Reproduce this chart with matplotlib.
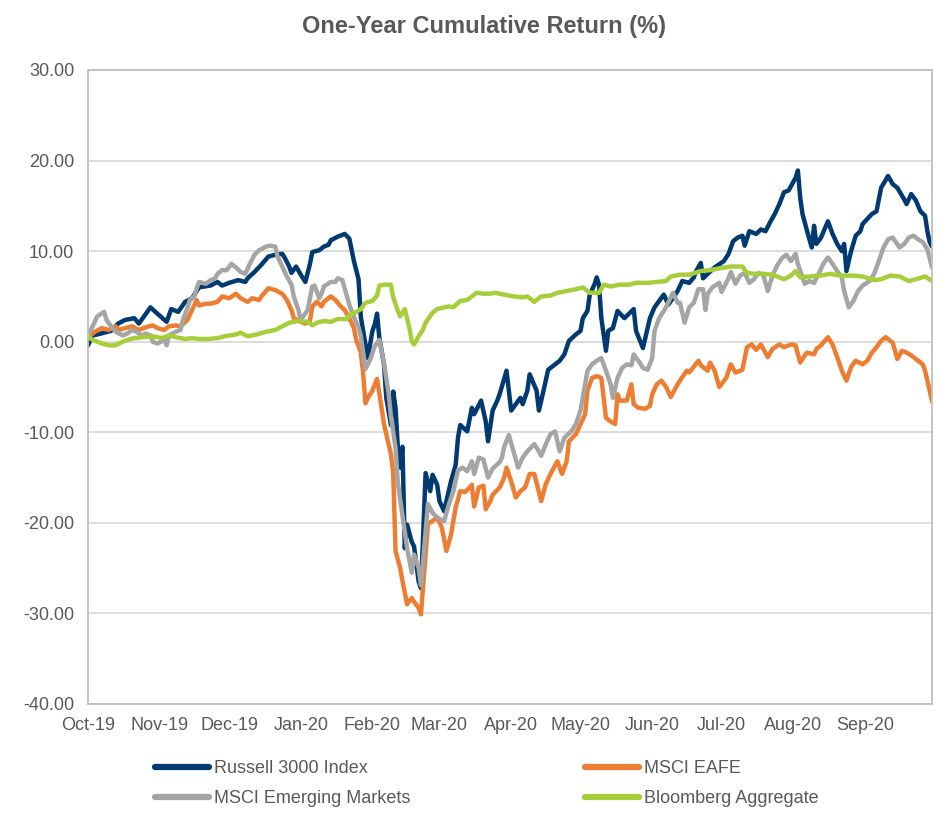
import pandas as pd
import matplotlib
matplotlib.use("Agg")
import matplotlib.pyplot as plt
import matplotlib.dates as mdates
from matplotlib.ticker import FormatStrFormatter

plt.rcParams["font.family"] = ["Liberation Sans", "DejaVu Sans"]

TITLE = "One-Year Cumulative Return (%)"
X_START, X_END = "2019-10-01", "2020-09-30"
Y_TICKS = [-40, -30, -20, -10, 0, 10, 20, 30]

# values (cumulative return, %)
RUSSELL_3000 = [
    ("2019-10-01", -0.4), ("2019-10-03", 0.7), ("2019-10-05", 0.8), ("2019-10-08", 1.0),
    ("2019-10-11", 1.2), ("2019-10-14", 2.0), ("2019-10-17", 2.4), ("2019-10-21", 2.6),
    ("2019-10-23", 2.0), ("2019-10-28", 3.8), ("2019-10-31", 3.1), ("2019-11-04", 2.2),
    ("2019-11-06", 3.6), ("2019-11-09", 3.3), ("2019-11-12", 4.4), ("2019-11-15", 4.8),
    ("2019-11-18", 6.0), ("2019-11-23", 6.2), ("2019-11-26", 6.6), ("2019-11-28", 6.2),
    ("2019-12-01", 6.5), ("2019-12-05", 6.8), ("2019-12-08", 6.6), ("2019-12-09", 7.0),
    ("2019-12-12", 7.7), ("2019-12-15", 8.5), ("2019-12-18", 9.4), ("2019-12-21", 9.6),
    ("2019-12-24", 9.7), ("2019-12-25", 9.3), ("2019-12-27", 8.3), ("2019-12-28", 7.6),
    ("2019-12-30", 8.3), ("2020-01-01", 7.4), ("2020-01-03", 6.6), ("2020-01-05", 8.6),
    ("2020-01-06", 9.9), ("2020-01-09", 10.1), ("2020-01-11", 10.5), ("2020-01-13", 10.7),
    ("2020-01-14", 11.2), ("2020-01-17", 11.6), ("2020-01-19", 11.8), ("2020-01-20", 11.9),
    ("2020-01-22", 11.4), ("2020-01-24", 8.9), ("2020-01-26", 6.9), ("2020-01-27", 2.7),
    ("2020-01-29", -0.3), ("2020-01-30", -1.8), ("2020-02-01", 1.2), ("2020-02-02", 1.9),
    ("2020-02-03", 3.1), ("2020-02-04", 0.4), ("2020-02-06", -2.5), ("2020-02-07", -6.2),
    ("2020-02-09", -9.2), ("2020-02-10", -5.5), ("2020-02-11", -7.3), ("2020-02-12", -11.7),
    ("2020-02-13", -13.9), ("2020-02-14", -11.6), ("2020-02-15", -22.8), ("2020-02-16", -20.2),
    ("2020-02-18", -22.1), ("2020-02-19", -22.6), ("2020-02-21", -26.5), ("2020-02-22", -27.2),
    ("2020-02-23", -21.0), ("2020-02-24", -14.5), ("2020-02-26", -16.5), ("2020-02-27", -14.7),
    ("2020-02-29", -15.8), ("2020-03-01", -17.6), ("2020-03-03", -18.7), ("2020-03-06", -15.4),
    ("2020-03-08", -13.6), ("2020-03-09", -10.6), ("2020-03-10", -9.2), ("2020-03-13", -9.9),
    ("2020-03-15", -7.3), ("2020-03-16", -8.0), ("2020-03-19", -6.5), ("2020-03-21", -8.8),
    ("2020-03-22", -11.0), ("2020-03-24", -7.6), ("2020-03-26", -6.5), ("2020-03-27", -5.8),
    ("2020-03-30", -3.2), ("2020-04-01", -7.6), ("2020-04-03", -6.9), ("2020-04-05", -6.2),
    ("2020-04-06", -6.9), ("2020-04-08", -5.4), ("2020-04-09", -3.6), ("2020-04-12", -5.4),
    ("2020-04-13", -7.6), ("2020-04-15", -5.4), ("2020-04-17", -3.1), ("2020-04-20", -2.5),
    ("2020-04-22", -2.1), ("2020-04-24", -1.4), ("2020-04-26", 0.1), ("2020-04-29", 0.8),
    ("2020-05-01", 1.2), ("2020-05-02", 2.6), ("2020-05-04", 3.4), ("2020-05-05", 5.2),
    ("2020-05-07", 6.3), ("2020-05-08", 7.1), ("2020-05-09", 6.3), ("2020-05-10", 2.6),
    ("2020-05-12", -1.0), ("2020-05-13", 1.2), ("2020-05-15", 1.5), ("2020-05-17", 3.4),
    ("2020-05-20", 2.6), ("2020-05-24", 3.6), ("2020-05-25", 1.2), ("2020-05-28", -0.7),
    ("2020-05-29", 0.4), ("2020-05-31", 2.6), ("2020-06-02", 3.8), ("2020-06-04", 4.5),
    ("2020-06-06", 5.2), ("2020-06-08", 4.1), ("2020-06-12", 5.6), ("2020-06-14", 6.7),
    ("2020-06-17", 6.5), ("2020-06-19", 7.1), ("2020-06-20", 7.8), ("2020-06-22", 8.7),
    ("2020-06-23", 7.0), ("2020-06-25", 7.5), ("2020-06-28", 8.2), ("2020-07-02", 8.9),
    ("2020-07-04", 9.7), ("2020-07-06", 11.1), ("2020-07-08", 11.5), ("2020-07-10", 11.7),
    ("2020-07-11", 10.6), ("2020-07-13", 12.2), ("2020-07-16", 11.9), ("2020-07-18", 12.4),
    ("2020-07-20", 12.2), ("2020-07-22", 13.2), ("2020-07-24", 14.1), ("2020-07-26", 15.2),
    ("2020-07-28", 16.5), ("2020-07-30", 16.7), ("2020-08-02", 18.1), ("2020-08-03", 18.9),
    ("2020-08-04", 15.9), ("2020-08-05", 14.1), ("2020-08-07", 12.2), ("2020-08-09", 10.4),
    ("2020-08-10", 12.8), ("2020-08-11", 10.8), ("2020-08-13", 11.5), ("2020-08-16", 13.3),
    ("2020-08-18", 11.9), ("2020-08-20", 10.8), ("2020-08-22", 10.0), ("2020-08-23", 10.8),
    ("2020-08-24", 7.8), ("2020-08-26", 10.0), ("2020-08-28", 11.7), ("2020-08-30", 12.2),
    ("2020-08-31", 13.0), ("2020-09-04", 14.1), ("2020-09-06", 14.4), ("2020-09-08", 17.0),
    ("2020-09-11", 18.3), ("2020-09-13", 17.4), ("2020-09-15", 17.0), ("2020-09-18", 15.7),
    ("2020-09-19", 15.2), ("2020-09-21", 16.3), ("2020-09-23", 15.6), ("2020-09-25", 14.4),
    ("2020-09-27", 13.9), ("2020-09-28", 12.2), ("2020-09-29", 11.0), ("2020-09-30", 10.5),
]

MSCI_EAFE = [
    ("2019-10-01", 0.5), ("2019-10-04", 1.1), ("2019-10-07", 1.5), ("2019-10-10", 1.3),
    ("2019-10-13", 1.7), ("2019-10-14", 1.3), ("2019-10-17", 1.5), ("2019-10-20", 1.7),
    ("2019-10-23", 1.3), ("2019-10-26", 1.6), ("2019-10-29", 1.8), ("2019-10-31", 1.5),
    ("2019-11-03", 1.3), ("2019-11-05", 1.7), ("2019-11-08", 1.8), ("2019-11-10", 1.7),
    ("2019-11-13", 2.4), ("2019-11-15", 3.5), ("2019-11-17", 4.6), ("2019-11-18", 4.0),
    ("2019-11-21", 4.2), ("2019-11-23", 4.2), ("2019-11-26", 4.4), ("2019-11-28", 5.0),
    ("2019-12-01", 4.8), ("2019-12-04", 5.3), ("2019-12-06", 4.8), ("2019-12-09", 4.4),
    ("2019-12-11", 4.8), ("2019-12-14", 4.6), ("2019-12-15", 5.0), ("2019-12-18", 5.9),
    ("2019-12-21", 5.7), ("2019-12-24", 5.3), ("2019-12-26", 4.6), ("2019-12-28", 3.5),
    ("2019-12-29", 2.6), ("2020-01-01", 2.2), ("2020-01-03", 2.0), ("2020-01-05", 2.3),
    ("2020-01-06", 3.9), ("2020-01-08", 4.4), ("2020-01-10", 3.9), ("2020-01-11", 4.4),
    ("2020-01-14", 5.0), ("2020-01-16", 4.6), ("2020-01-18", 4.0), ("2020-01-20", 3.5),
    ("2020-01-22", 2.6), ("2020-01-24", 1.5), ("2020-01-25", 0.2), ("2020-01-27", -1.2),
    ("2020-01-28", -3.5), ("2020-01-29", -6.8), ("2020-01-30", -6.2), ("2020-02-01", -5.4),
    ("2020-02-03", -4.1), ("2020-02-04", -5.7), ("2020-02-06", -9.1), ("2020-02-09", -12.4),
    ("2020-02-10", -14.5), ("2020-02-11", -23.1), ("2020-02-13", -25.0), ("2020-02-14", -26.4),
    ("2020-02-16", -29.0), ("2020-02-18", -28.3), ("2020-02-19", -28.7), ("2020-02-21", -29.4),
    ("2020-02-22", -30.1), ("2020-02-24", -23.5), ("2020-02-25", -20.1), ("2020-02-27", -19.8),
    ("2020-02-29", -19.4), ("2020-03-02", -20.5), ("2020-03-04", -23.1), ("2020-03-06", -21.3),
    ("2020-03-08", -18.3), ("2020-03-10", -16.5), ("2020-03-12", -16.6), ("2020-03-14", -16.1),
    ("2020-03-15", -15.8), ("2020-03-16", -18.2), ("2020-03-18", -16.1), ("2020-03-20", -15.9),
    ("2020-03-21", -18.5), ("2020-03-23", -17.6), ("2020-03-24", -16.9), ("2020-03-27", -16.1),
    ("2020-03-29", -15.0), ("2020-03-30", -13.9), ("2020-04-01", -15.4), ("2020-04-03", -17.2),
    ("2020-04-05", -16.5), ("2020-04-07", -16.1), ("2020-04-09", -14.6), ("2020-04-11", -14.6),
    ("2020-04-14", -17.6), ("2020-04-16", -15.7), ("2020-04-18", -14.6), ("2020-04-21", -13.2),
    ("2020-04-23", -14.6), ("2020-04-25", -13.2), ("2020-04-26", -11.0), ("2020-04-29", -10.2),
    ("2020-05-01", -9.1), ("2020-05-03", -8.0), ("2020-05-04", -5.4), ("2020-05-06", -4.0),
    ("2020-05-08", -3.8), ("2020-05-10", -4.0), ("2020-05-11", -6.2), ("2020-05-12", -8.4),
    ("2020-05-14", -8.8), ("2020-05-16", -9.1), ("2020-05-17", -5.8), ("2020-05-18", -6.5),
    ("2020-05-21", -6.5), ("2020-05-23", -4.7), ("2020-05-24", -6.9), ("2020-05-26", -7.3),
    ("2020-05-29", -7.4), ("2020-05-31", -7.1), ("2020-06-01", -5.8), ("2020-06-03", -4.7),
    ("2020-06-05", -4.3), ("2020-06-07", -5.0), ("2020-06-09", -6.1), ("2020-06-12", -4.7),
    ("2020-06-14", -3.9), ("2020-06-16", -3.2), ("2020-06-17", -3.4), ("2020-06-21", -2.1),
    ("2020-06-22", -2.6), ("2020-06-25", -3.2), ("2020-06-26", -2.3), ("2020-06-28", -3.2),
    ("2020-06-30", -5.0), ("2020-07-03", -4.0), ("2020-07-05", -2.5), ("2020-07-07", -3.4),
    ("2020-07-10", -3.1), ("2020-07-12", -0.6), ("2020-07-14", -0.3), ("2020-07-16", -0.9),
    ("2020-07-18", -0.3), ("2020-07-21", -1.7), ("2020-07-23", -0.8), ("2020-07-26", -0.3),
    ("2020-07-28", -0.6), ("2020-07-31", -0.3), ("2020-08-02", -0.4), ("2020-08-04", -2.3),
    ("2020-08-06", -1.5), ("2020-08-07", -1.2), ("2020-08-10", -1.4), ("2020-08-11", -0.8),
    ("2020-08-13", -0.4), ("2020-08-16", 0.5), ("2020-08-18", -0.3), ("2020-08-20", -1.7),
    ("2020-08-22", -3.2), ("2020-08-24", -4.3), ("2020-08-26", -2.8), ("2020-08-28", -2.1),
    ("2020-08-31", -2.5), ("2020-09-02", -2.1), ("2020-09-04", -1.2), ("2020-09-06", -0.6),
    ("2020-09-08", 0.1), ("2020-09-10", 0.5), ("2020-09-13", -0.1), ("2020-09-15", -1.9),
    ("2020-09-17", -1.0), ("2020-09-19", -1.2), ("2020-09-21", -1.5), ("2020-09-23", -1.9),
    ("2020-09-26", -2.5), ("2020-09-27", -3.2), ("2020-09-29", -5.4), ("2020-09-30", -6.6),
]

MSCI_EM = [
    ("2019-10-01", 0.7), ("2019-10-03", 1.7), ("2019-10-05", 2.8), ("2019-10-08", 3.3),
    ("2019-10-09", 2.4), ("2019-10-11", 1.7), ("2019-10-13", 1.1), ("2019-10-16", 0.7),
    ("2019-10-18", 0.9), ("2019-10-20", 1.3), ("2019-10-22", 1.1), ("2019-10-24", 0.7),
    ("2019-10-26", 0.9), ("2019-10-28", 0.7), ("2019-10-29", 0.0), ("2019-10-31", -0.2),
    ("2019-11-03", 0.2), ("2019-11-04", -0.4), ("2019-11-05", 0.7), ("2019-11-08", 1.1),
    ("2019-11-10", 1.3), ("2019-11-11", 2.4), ("2019-11-13", 3.7), ("2019-11-14", 4.6),
    ("2019-11-16", 5.0), ("2019-11-17", 5.9), ("2019-11-18", 6.6), ("2019-11-21", 6.4),
    ("2019-11-23", 6.8), ("2019-11-25", 7.0), ("2019-11-26", 7.5), ("2019-11-28", 7.9),
    ("2019-11-30", 7.9), ("2019-12-02", 8.6), ("2019-12-04", 8.2), ("2019-12-06", 7.7),
    ("2019-12-08", 7.5), ("2019-12-10", 8.6), ("2019-12-12", 9.6), ("2019-12-14", 10.1),
    ("2019-12-17", 10.5), ("2019-12-19", 10.6), ("2019-12-21", 10.5), ("2019-12-22", 9.4),
    ("2019-12-24", 8.3), ("2019-12-26", 7.2), ("2019-12-28", 6.3), ("2019-12-29", 5.0),
    ("2019-12-31", 3.5), ("2020-01-01", 2.4), ("2020-01-04", 3.5), ("2020-01-06", 6.1),
    ("2020-01-07", 6.2), ("2020-01-09", 4.8), ("2020-01-10", 5.3), ("2020-01-11", 6.1),
    ("2020-01-14", 6.6), ("2020-01-16", 6.6), ("2020-01-17", 7.0), ("2020-01-19", 6.8),
    ("2020-01-20", 5.9), ("2020-01-22", 4.1), ("2020-01-24", 2.7), ("2020-01-26", 1.6),
    ("2020-01-27", 0.6), ("2020-01-29", -3.0), ("2020-01-31", -2.0), ("2020-02-02", -0.5),
    ("2020-02-04", 0.2), ("2020-02-06", -2.4), ("2020-02-08", -5.7), ("2020-02-09", -8.3),
    ("2020-02-11", -11.7), ("2020-02-12", -15.6), ("2020-02-14", -19.2), ("2020-02-16", -22.8),
    ("2020-02-18", -25.5), ("2020-02-19", -23.5), ("2020-02-21", -25.0), ("2020-02-22", -26.9),
    ("2020-02-24", -21.0), ("2020-02-25", -17.9), ("2020-02-27", -18.9), ("2020-02-29", -19.4),
    ("2020-03-03", -19.8), ("2020-03-05", -18.0), ("2020-03-07", -16.5), ("2020-03-09", -14.2),
    ("2020-03-11", -13.9), ("2020-03-13", -14.3), ("2020-03-15", -13.2), ("2020-03-16", -14.6),
    ("2020-03-18", -12.8), ("2020-03-20", -13.0), ("2020-03-22", -15.0), ("2020-03-24", -14.0),
    ("2020-03-27", -13.3), ("2020-03-28", -12.8), ("2020-03-29", -11.6), ("2020-03-31", -10.3),
    ("2020-04-02", -12.1), ("2020-04-04", -13.9), ("2020-04-06", -12.8), ("2020-04-08", -12.1),
    ("2020-04-11", -11.3), ("2020-04-13", -12.1), ("2020-04-14", -12.6), ("2020-04-16", -11.3),
    ("2020-04-18", -10.2), ("2020-04-20", -9.9), ("2020-04-22", -12.1), ("2020-04-24", -10.6),
    ("2020-04-27", -9.9), ("2020-04-29", -9.1), ("2020-05-01", -7.6), ("2020-05-03", -4.7),
    ("2020-05-04", -3.2), ("2020-05-06", -2.5), ("2020-05-08", -2.1), ("2020-05-10", -1.8),
    ("2020-05-12", -3.2), ("2020-05-14", -4.7), ("2020-05-15", -6.2), ("2020-05-17", -4.0),
    ("2020-05-19", -2.9), ("2020-05-21", -2.5), ("2020-05-23", -2.6), ("2020-05-24", -1.4),
    ("2020-05-26", -2.1), ("2020-05-28", -2.9), ("2020-05-30", -3.1), ("2020-06-01", -1.8),
    ("2020-06-02", 1.2), ("2020-06-04", 2.6), ("2020-06-07", 3.8), ("2020-06-09", 4.9),
    ("2020-06-10", 5.4), ("2020-06-12", 4.3), ("2020-06-13", 4.3), ("2020-06-15", 2.1),
    ("2020-06-17", 3.8), ("2020-06-19", 4.3), ("2020-06-21", 5.8), ("2020-06-23", 5.8),
    ("2020-06-24", 3.5), ("2020-06-25", 5.3), ("2020-06-27", 6.0), ("2020-06-30", 6.5),
    ("2020-07-01", 5.5), ("2020-07-04", 7.0), ("2020-07-05", 7.7), ("2020-07-07", 6.4),
    ("2020-07-09", 7.3), ("2020-07-11", 7.6), ("2020-07-13", 6.5), ("2020-07-15", 6.9),
    ("2020-07-17", 7.6), ("2020-07-19", 7.4), ("2020-07-20", 6.5), ("2020-07-21", 5.6),
    ("2020-07-23", 7.3), ("2020-07-25", 8.4), ("2020-07-27", 9.2), ("2020-07-29", 9.6),
    ("2020-07-31", 8.9), ("2020-08-02", 9.7), ("2020-08-03", 8.6), ("2020-08-05", 7.1),
    ("2020-08-06", 6.4), ("2020-08-08", 6.7), ("2020-08-10", 6.5), ("2020-08-12", 7.5),
    ("2020-08-14", 8.6), ("2020-08-16", 9.3), ("2020-08-18", 8.6), ("2020-08-20", 7.8),
    ("2020-08-22", 7.1), ("2020-08-23", 5.6), ("2020-08-25", 3.8), ("2020-08-27", 4.5),
    ("2020-08-29", 5.6), ("2020-08-31", 6.2), ("2020-09-03", 6.7), ("2020-09-05", 7.5),
    ("2020-09-07", 8.9), ("2020-09-09", 10.4), ("2020-09-11", 11.3), ("2020-09-13", 11.5),
    ("2020-09-16", 10.4), ("2020-09-18", 10.8), ("2020-09-20", 11.5), ("2020-09-22", 11.7),
    ("2020-09-24", 11.3), ("2020-09-26", 11.0), ("2020-09-28", 10.2), ("2020-09-30", 8.2),
]

BLOOMBERG_AGG = [
    ("2019-10-01", 0.6), ("2019-10-03", 0.2), ("2019-10-07", -0.2), ("2019-10-10", -0.4),
    ("2019-10-13", -0.4), ("2019-10-16", 0.0), ("2019-10-18", 0.2), ("2019-10-21", 0.4),
    ("2019-10-25", 0.5), ("2019-10-29", 0.6), ("2019-11-02", 0.4), ("2019-11-05", 0.7),
    ("2019-11-08", 0.5), ("2019-11-12", 0.3), ("2019-11-15", 0.4), ("2019-11-18", 0.3),
    ("2019-11-22", 0.3), ("2019-11-26", 0.4), ("2019-11-29", 0.6), ("2019-12-04", 0.8),
    ("2019-12-06", 1.0), ("2019-12-09", 0.6), ("2019-12-13", 0.8), ("2019-12-17", 1.1),
    ("2019-12-21", 1.3), ("2019-12-24", 1.7), ("2019-12-27", 2.1), ("2019-12-31", 2.3),
    ("2020-01-04", 2.2), ("2020-01-06", 1.8), ("2020-01-08", 2.1), ("2020-01-11", 2.3),
    ("2020-01-14", 2.2), ("2020-01-17", 2.5), ("2020-01-21", 2.5), ("2020-01-22", 2.9),
    ("2020-01-25", 3.3), ("2020-01-27", 3.6), ("2020-01-29", 4.3), ("2020-02-01", 4.5),
    ("2020-02-03", 5.1), ("2020-02-04", 6.2), ("2020-02-06", 6.3), ("2020-02-09", 6.3),
    ("2020-02-10", 4.9), ("2020-02-12", 3.4), ("2020-02-13", 2.8), ("2020-02-15", 3.6),
    ("2020-02-17", 1.5), ("2020-02-18", 0.1), ("2020-02-19", -0.3), ("2020-02-21", 0.6),
    ("2020-02-23", 1.4), ("2020-02-24", 2.1), ("2020-02-27", 3.2), ("2020-02-29", 3.6),
    ("2020-03-03", 3.8), ("2020-03-05", 3.9), ("2020-03-07", 3.8), ("2020-03-10", 4.5),
    ("2020-03-13", 4.6), ("2020-03-17", 5.4), ("2020-03-20", 5.3), ("2020-03-23", 5.3),
    ("2020-03-25", 5.4), ("2020-03-29", 5.2), ("2020-04-02", 5.0), ("2020-04-06", 4.9),
    ("2020-04-08", 5.0), ("2020-04-11", 4.4), ("2020-04-14", 5.0), ("2020-04-18", 5.1),
    ("2020-04-21", 5.4), ("2020-04-25", 5.6), ("2020-04-29", 5.8), ("2020-05-02", 6.0),
    ("2020-05-05", 5.4), ("2020-05-09", 5.4), ("2020-05-11", 6.3), ("2020-05-14", 6.1),
    ("2020-05-18", 6.3), ("2020-05-22", 6.3), ("2020-05-25", 6.5), ("2020-05-30", 6.5),
    ("2020-06-03", 6.6), ("2020-06-07", 6.7), ("2020-06-09", 7.2), ("2020-06-13", 7.4),
    ("2020-06-17", 7.4), ("2020-06-22", 7.8), ("2020-06-26", 7.9), ("2020-06-30", 8.1),
    ("2020-07-05", 8.3), ("2020-07-10", 8.3), ("2020-07-12", 7.6), ("2020-07-15", 7.5),
    ("2020-07-19", 7.5), ("2020-07-23", 7.4), ("2020-07-28", 6.9), ("2020-07-31", 7.3),
    ("2020-08-02", 7.8), ("2020-08-04", 7.1), ("2020-08-08", 7.2), ("2020-08-13", 7.3),
    ("2020-08-17", 7.5), ("2020-08-21", 7.3), ("2020-08-27", 7.3), ("2020-08-31", 7.2),
    ("2020-09-05", 6.8), ("2020-09-08", 6.9), ("2020-09-12", 7.3), ("2020-09-16", 7.2),
    ("2020-09-20", 6.7), ("2020-09-23", 6.9), ("2020-09-27", 7.2), ("2020-09-30", 6.7),
]

SERIES = [
    ("Russell 3000 Index", RUSSELL_3000, "#003A70"),
    ("MSCI EAFE", MSCI_EAFE, "#ED7D31"),
    ("MSCI Emerging Markets", MSCI_EM, "#A5A5A5"),
    ("Bloomberg Aggregate", BLOOMBERG_AGG, "#A6CE39"),
]

TEXT = "#595959"

fig = plt.figure(figsize=(9.4, 8.17), dpi=100)
ax = fig.add_axes([88 / 940, 1 - 704 / 817, 844 / 940, 634 / 817])

handles = {}
for name, data, color in SERIES:
    dates = pd.to_datetime([d for d, _ in data])
    vals = [v for _, v in data]
    line, = ax.plot(dates, vals, color=color, lw=3.2, solid_joinstyle="round",
                    solid_capstyle="round", label=name)
    handles[name] = line

ax.set_xlim(pd.Timestamp(X_START), pd.Timestamp(X_END))
ax.set_ylim(Y_TICKS[0], Y_TICKS[-1])
ax.set_yticks(Y_TICKS)
ax.yaxis.set_major_formatter(FormatStrFormatter("%.2f"))
ax.xaxis.set_major_locator(mdates.MonthLocator())
ax.xaxis.set_major_formatter(mdates.DateFormatter("%b-%y"))

ax.grid(axis="y", color="#D9D9D9", lw=1.3)
ax.set_axisbelow(True)
for sp in ax.spines.values():
    sp.set_color("#BFBFBF")
    sp.set_linewidth(1.3)
ax.tick_params(axis="both", length=0, labelsize=13, colors=TEXT)
ax.tick_params(axis="y", pad=10)
ax.tick_params(axis="x", pad=9)

fig.text(484 / 940, 1 - 27 / 817, TITLE, ha="center", va="center",
         fontsize=17, fontweight="bold", color=TEXT)

order = ["Russell 3000 Index", "MSCI Emerging Markets", "MSCI EAFE", "Bloomberg Aggregate"]
leg = fig.legend([handles[n] for n in order], order, ncol=2, frameon=False,
                 loc="upper left", bbox_to_anchor=(155 / 940, 1 - 760 / 817),
                 borderpad=0, borderaxespad=0, fontsize=13, handlelength=3.0,
                 handletextpad=0.25, columnspacing=9.7, labelspacing=0.72)
for t in leg.get_texts():
    t.set_color(TEXT)
for h in leg.get_lines():
    h.set_linewidth(4.5)

fig.savefig("out.png", dpi=100)
